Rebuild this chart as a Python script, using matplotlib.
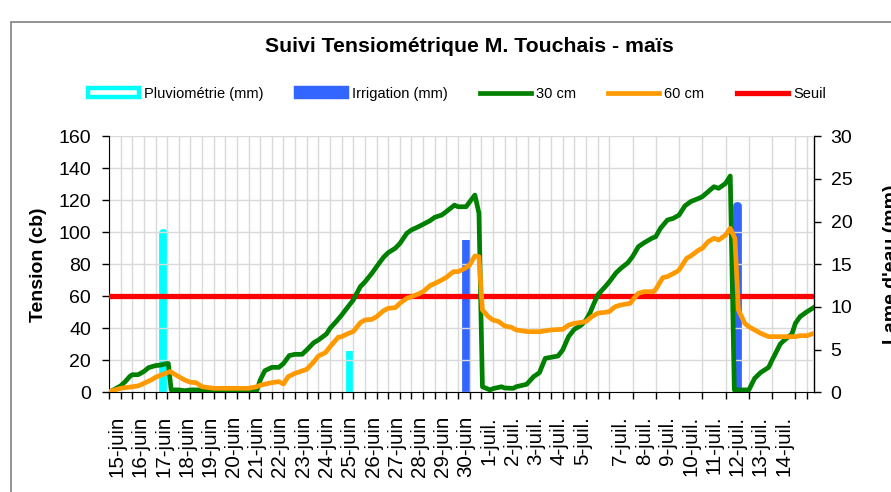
import matplotlib
matplotlib.use("Agg")
import matplotlib.pyplot as plt
from matplotlib.patches import Patch, Rectangle
from matplotlib.lines import Line2D

plt.rcParams['font.family'] = ['Liberation Sans', 'DejaVu Sans']

# x is in half-day steps from the left edge of the plot
# date labels of the x axis (no 6-juil. in the original chart)
labels_juin = [f"{d}-juin" for d in range(15, 31)]
labels_juil_a = [f"{d}-juil." for d in range(1, 6)]
labels_juil_b = [f"{d}-juil." for d in range(7, 15)]

# rain and irrigation (mm), placed on the date labels
rain_dates = ["17-juin", "25-juin"]
rain_mm = [18.7, 4.8]
irrig_dates = ["30-juin", "12-juil."]
irrig_mm = [17.8, 21.8]

# threshold (cb)
seuil = 60

# tensiometer 30 cm
t_30 = [0, 0.5, 1, 1.4, 1.8, 2, 2.5, 3, 3.4, 4, 4.4, 5, 5.1, 5.35, 6, 6.5, 7, 7.7, 8, 9,
        10, 11, 12, 12.7, 13, 13.4, 14, 14.6, 15, 15.5, 16, 16.6, 17, 17.6, 18, 18.7, 19,
        19.6, 20, 20.6, 21, 21.6, 22, 22.6, 23, 23.6, 24, 24.6, 25, 25.6, 26, 26.6, 27,
        27.6, 28, 28.6, 29, 29.7, 30, 30.7, 31, 31.45, 31.8, 32.1, 32.75, 33, 33.75, 34,
        34.75, 35, 35.9, 36.5, 37, 37.5, 38, 38.6, 39, 39.5, 40, 40.6, 41, 41.35, 42, 42.6,
        43, 43.6, 44, 44.6, 45, 45.5, 46, 46.65, 47, 47.4, 48, 48.5, 49, 49.5, 50, 50.7,
        51, 51.5, 52, 52.4, 53, 53.4, 53.75, 55, 55.5, 56, 56.7, 57, 57.7, 58, 58.7, 59,
        59.4, 60, 60.6]
tension_30 = [0, 2, 4, 6.7, 10, 11, 11, 13, 15.4, 16.7, 17, 18, 18, 1.5, 1.5, 1, 1.5, 1.5, 1, 0,
              0, 0, 0, 1, 7.7, 13.5, 15.6, 15.6, 18, 23, 23.75, 23.75, 26.5, 31, 32.7, 36.5, 40,
              44.8, 48.3, 54, 57.7, 66, 69, 74.4, 78.5, 84.4, 87.3, 90, 93, 99.4, 101.5, 103.5, 105,
              107.3, 109.4, 110.8, 113, 117, 116, 116, 119, 123.3, 112, 3.5, 1.5, 2.3, 3.5, 2.7,
              2.5, 3.5, 5, 9.8, 12.3, 21.25, 21.9, 22.7, 26.5, 34.8, 39.4, 42, 45.2, 49.8, 60.8, 65.6,
              69, 74.8, 77.5, 81, 84.8, 91, 93.5, 96.25, 97.3, 102.5, 107.7, 108.75, 110.8, 116.5, 119.2, 121.25,
              122.3, 125.4, 128.5, 127.5, 130.6, 135.2, 1.5, 1.5, 8.75, 12.3, 15.6, 20.2, 30.2, 32.3, 36.5, 43.1,
              47.3, 50.4, 53.1]

# tensiometer 60 cm
t_60 = [0, 1, 2, 2.5, 3, 3.7, 4, 5, 5.25, 6, 6.5, 7, 7.5, 8, 9, 10, 11, 12, 12.7, 13, 13.7,
        14, 14.6, 15, 15.4, 16, 16.85, 17, 17.6, 18, 18.6, 19, 19.7, 20, 20.6, 21, 21.6, 22,
        22.6, 23, 23.6, 24, 24.6, 25, 25.6, 26, 26.6, 27, 27.6, 28, 28.6, 29, 29.6, 30, 30.6,
        31, 31.45, 31.8, 32.1, 32.6, 33, 33.5, 34, 34.6, 35, 36, 37, 38, 39, 39.5, 40, 41,
        41.5, 42, 43, 43.5, 44, 44.8, 45, 45.5, 46, 46.8, 47, 47.6, 48, 48.8, 49, 49.65, 50,
        50.7, 51, 51.5, 52, 52.4, 53, 53.4, 53.8, 54.1, 54.65, 55, 55.5, 56, 56.7, 57, 58, 59,
        59.4, 60, 60.6]
tension_60 = [0.4, 2.5, 3.5, 4, 5.6, 8, 9.4, 12.3, 13, 9.8, 7.7, 6.3, 6, 3.5, 2.5, 2.5, 2.5, 2.5, 3.5, 4.4, 5.6,
              6, 6.7, 5.2, 9.8, 11.9, 14, 14.4, 19, 22.7, 24.8, 28.5, 34.4, 34.8, 36.9, 38, 43.5, 45.2,
              45.6, 47.3, 51, 52.5, 52.9, 55.6, 58.75, 59.8, 61.5, 62.9, 66.7, 68, 70.2, 71.9, 75.4, 75.4, 77.5,
              79.6, 85.2, 84.8, 51.5, 47.3, 45.2, 44.2, 41.5, 40.6, 39, 37.9, 37.9, 39, 39.4, 42, 43.1, 44.2,
              47.3, 49.4, 50.4, 53.5, 54.6, 55.6, 57.7, 61.9, 62.9, 62.9, 64.4, 71.7, 72.3, 75.4, 76.5, 83.75, 85.2,
              89, 90, 94.2, 96.25, 95.2, 98.3, 102.5, 96.25, 51.5, 43.1, 41, 39, 36.9, 34.8, 34.8, 34.8, 34.8,
              35.4, 35.4, 36.9]

# positions of the date labels on the x axis
tick_labels = labels_juin + labels_juil_a + labels_juil_b
tick_pos = [0.7 + 2 * k for k in range(len(labels_juin) + len(labels_juil_a))]
tick_pos += [44 + 2 * k for k in range(len(labels_juil_b))]
date_pos = dict(zip(tick_labels, tick_pos))

c_rain = '#00FFFF'
c_irrig = '#3366FF'
c_30 = '#008000'
c_60 = '#FF9900'
c_seuil = '#FF0000'

fig = plt.figure(figsize=(8.91, 4.92), dpi=100)
ax = fig.add_axes([0.1223, 0.2026, 0.7913, 0.5203])
ax2 = ax.twinx()

# bars on the right axis (mm): thick round outline, so they look like rounded sticks
ax2.bar([date_pos[d] for d in rain_dates], rain_mm, width=0.05, facecolor=c_rain,
        edgecolor=c_rain, linewidth=5.6, joinstyle='round')
ax2.bar([date_pos[d] for d in irrig_dates], irrig_mm, width=0.05, facecolor=c_irrig,
        edgecolor=c_irrig, linewidth=5.6, joinstyle='round')
ax2.set_ylim(0, 30)
ax2.set_yticks(range(0, 31, 5))
ax2.tick_params(axis='y', direction='out', length=5, width=1, pad=7, labelsize=14)
ax2.set_ylabel("Lame d'eau (mm)", fontsize=14, fontweight='bold', rotation=90)
ax2.yaxis.set_label_coords(1.098, 0.5)
for s in ['top', 'left', 'bottom']:
    ax2.spines[s].set_visible(False)
ax2.spines['right'].set_linewidth(1)

# lines on the left axis (cb), drawn above the bars
ax.set_zorder(ax2.get_zorder() + 1)
ax.patch.set_visible(False)
ax.axhline(seuil, color=c_seuil, lw=3.8, zorder=3)
ax.plot(t_30, tension_30, color=c_30, lw=3.4, solid_joinstyle='round', zorder=4)
ax.plot(t_60, tension_60, color=c_60, lw=3.4, solid_joinstyle='round', zorder=5)

ax.set_xlim(0, 60.6)
ax.set_ylim(0, 160)
ax.set_yticks(range(0, 161, 20))
ax.set_xticks(range(0, 61), minor=True)
ax.set_xticks(tick_pos)
ax.set_xticklabels(tick_labels, rotation=90, fontsize=14.8)
ax.tick_params(axis='x', which='major', length=0, pad=17)
ax.tick_params(axis='x', which='minor', direction='out', length=5, width=1)
ax.tick_params(axis='y', direction='out', length=5, width=1, pad=8, labelsize=14)
ax.grid(True, which='minor', axis='x', color='#D9D9D9', lw=1)
ax.grid(True, which='major', axis='y', color='#D9D9D9', lw=1)
ax.set_axisbelow(True)
for s in ['top', 'right']:
    ax.spines[s].set_visible(False)
ax.set_ylabel('Tension (cb)', fontsize=14, fontweight='bold')
ax.yaxis.set_label_coords(-0.088, 0.5)

fig.text(469 / 891, 1 - 47 / 492, 'Suivi Tensiométrique M. Touchais - maïs',
         ha='center', va='center', fontsize=15.3, fontweight='bold')

handles = [Patch(facecolor='white', edgecolor=c_rain, linewidth=3.2),
           Patch(facecolor=c_irrig, edgecolor=c_irrig, linewidth=3.2),
           Line2D([], [], color=c_30, lw=3.4),
           Line2D([], [], color=c_60, lw=3.4),
           Line2D([], [], color=c_seuil, lw=3.8)]
names = ['Pluviométrie (mm)', 'Irrigation (mm)', '30 cm', '60 cm', 'Seuil']
fig.legend(handles, names, loc='center', bbox_to_anchor=(457 / 891, 1 - 94 / 492), ncol=5,
           frameon=False, fontsize=10.5, handlelength=3.5, handleheight=0.6,
           handletextpad=0.35, columnspacing=2.2)

# chart frame
fig.add_artist(Rectangle((11 / 891, -0.1), 2, 1 - 21.5 / 492 + 0.1, transform=fig.transFigure,
                         fill=False, edgecolor='#808080', lw=1.2))

fig.savefig('out.png', dpi=100)
